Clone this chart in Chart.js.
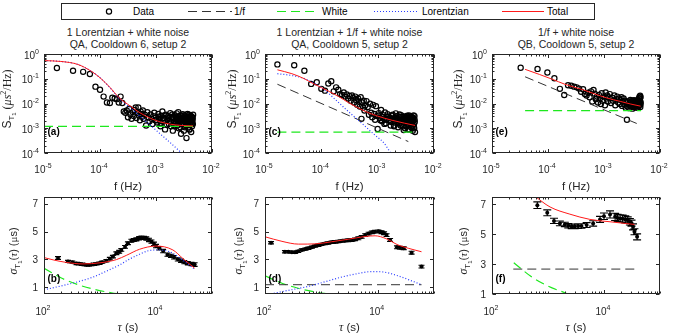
<!DOCTYPE html>
<html>
<head>
<meta charset="utf-8">
<title>T1 fluctuation spectra</title>
<script src="https://cdn.jsdelivr.net/npm/chart.js@4.4.1/dist/chart.umd.min.js"></script>
<style>
  html, body { margin: 0; padding: 0; background: #fff; }
  body { position: relative; width: 678px; height: 335px; overflow: hidden;
         font-family: "Liberation Sans", Arial, Helvetica, sans-serif; color: #262626; }
  canvas { position: absolute; }
  svg { position: absolute; left: 0; top: 0; }
  .ttl { position: absolute; font-size: 10.5px; line-height: 12px; white-space: nowrap; transform: translateX(-50%); }
  .lg { position: absolute; top: 5.5px; font-size: 10px; line-height: 12px; white-space: nowrap; color: #000; }
</style>
</head>
<body>

<svg width="678" height="24">
  <rect x="61.5" y="3.5" width="533" height="16" fill="#fff" stroke="#262626" stroke-width="1"/>
  <circle cx="109" cy="11.5" r="2.6" fill="none" stroke="#000" stroke-width="1.2"/>
  <line x1="188" y1="11.5" x2="232" y2="11.5" stroke="#333" stroke-width="1" stroke-dasharray="9 5"/>
  <line x1="277" y1="11.5" x2="319" y2="11.5" stroke="#1ee81e" stroke-width="1.2" stroke-dasharray="9 5"/>
  <line x1="374" y1="11.5" x2="417" y2="11.5" stroke="#2a3cff" stroke-width="1.2" stroke-dasharray="1 2"/>
  <line x1="502" y1="11.5" x2="544" y2="11.5" stroke="#ff1a1a" stroke-width="1"/>
</svg>
<div class="lg" style="left:133px">Data</div>
<div class="lg" style="left:234px">1/f</div>
<div class="lg" style="left:322px">White</div>
<div class="lg" style="left:422px">Lorentzian</div>
<div class="lg" style="left:547px">Total</div>

<div class="ttl" style="left:128px;top:25.5px">1 Lorentzian + white noise</div>
<div class="ttl" style="left:128px;top:37.5px">QA, Cooldown 6, setup 2</div>
<div class="ttl" style="left:349.5px;top:25.5px">1 Lorentzian + 1/f + white noise</div>
<div class="ttl" style="left:349.5px;top:37.5px">QA, Cooldown 5, setup 2</div>
<div class="ttl" style="left:576px;top:25.5px">1/f + white noise</div>
<div class="ttl" style="left:576px;top:37.5px">QB, Cooldown 5, setup 2</div>

<script>
// ---- tick values
const freqTicks = [1e-5, 1e-4, 1e-3, 1e-2];
const psdTicks = [1e-4, 1e-3, 1e-2, 1e-1, 1];
const tauTicks = [1e2, 1e4];
const sigmaTicks = [1, 3, 5, 7];

// ---- (a) PSD, QA cooldown 6
const aFreq = [1.7e-5,3.3e-5,5.0e-5,6.6e-5,8.3e-5,1.0e-4,1.16e-4,1.33e-4,1.5e-4,1.66e-4,1.83e-4,2.0e-4,2.16e-4,2.33e-4,2.5e-4,
  2.66e-4,2.83e-4,3.0e-4,3.16e-4,3.33e-4,3.5e-4,3.66e-4,3.83e-4,4.0e-4,4.16e-4,4.33e-4,4.5e-4,4.66e-4,4.83e-4,5.0e-4,5.16e-4,5.33e-4,5.5e-4,5.66e-4,5.83e-4,6.0e-4,
  6.33e-4,6.66e-4,7.0e-4,7.33e-4,7.66e-4,8.0e-4,8.33e-4,8.66e-4,9.0e-4,9.33e-4,9.66e-4,
  1.0e-3,1.05e-3,1.1e-3,1.15e-3,1.2e-3,1.25e-3,1.3e-3,1.35e-3,1.4e-3,1.45e-3,1.5e-3,
  1.6e-3,1.7e-3,1.8e-3,1.9e-3,2.0e-3,2.1e-3,2.2e-3,2.3e-3,2.4e-3,2.5e-3,2.6e-3,2.7e-3,2.8e-3,2.9e-3,3.0e-3,3.1e-3,3.2e-3,3.3e-3,3.4e-3,3.5e-3,3.6e-3,3.7e-3,3.8e-3,3.9e-3,4.0e-3,4.1e-3,4.2e-3,4.3e-3,4.4e-3,4.5e-3,4.6e-3,
  1.65e-3,1.75e-3,1.85e-3,1.95e-3,2.05e-3,2.15e-3,2.25e-3,2.35e-3,2.45e-3,2.55e-3,2.65e-3,2.75e-3,2.85e-3,2.95e-3,3.05e-3,3.15e-3,3.25e-3,3.35e-3,3.45e-3,3.55e-3,3.65e-3,3.75e-3,3.85e-3,3.95e-3,4.05e-3,4.15e-3,4.25e-3,4.35e-3,4.45e-3,4.55e-3,
  1.02e-3,1.12e-3,1.22e-3,1.32e-3,1.42e-3,1.55e-3,1.68e-3,1.82e-3,1.98e-3,2.12e-3,2.28e-3,2.42e-3,2.58e-3,2.72e-3,2.88e-3,3.02e-3,3.18e-3,3.32e-3,3.48e-3,3.62e-3,3.78e-3,3.92e-3,4.08e-3,4.22e-3,4.38e-3,4.52e-3];
const aPsd = [0.27,0.21,0.19,0.155,0.048,0.036,0.019,0.011,0.0104,0.017,0.016,0.015,0.011,0.019,0.0105,
  0.0048,0.0042,0.0052,0.0028,0.0062,0.0036,0.0024,0.0045,0.0031,0.0055,0.0069,0.0026,0.0042,0.0069,0.0033,0.0021,0.0047,0.0038,0.0029,0.0052,0.0024,
  0.0035,0.0013,0.0044,0.0027,0.0019,0.0036,0.0024,0.0015,0.0031,0.0042,0.0021,
  0.0027,0.0017,0.0038,0.0024,0.0012,0.0032,0.0048,0.0019,0.0026,0.0009,0.0035,
  0.0022,0.0015,0.0041,0.0027,0.0008,0.0019,0.0033,0.0023,0.0013,0.0045,0.0029,0.0018,0.0006,0.0025,0.0037,0.0016,0.0022,0.0011,0.0031,0.0004,0.0020,0.0027,0.0014,0.0035,0.0009,0.0024,0.0017,0.0030,0.0012,0.0021,0.0035,
  0.0031,0.0019,0.0012,0.0036,0.0026,0.0014,0.0028,0.0040,0.0021,0.0010,0.0024,0.0033,0.0016,0.0020,0.0027,0.0008,0.0034,0.0018,0.0024,0.0013,0.0038,0.0021,0.0011,0.0026,0.0016,0.0032,0.0007,0.0022,0.0028,0.0015,
  0.0021,0.0029,0.0016,0.0025,0.0033,0.0014,0.0026,0.0018,0.0029,0.0012,0.0017,0.0026,0.0020,0.0011,0.0032,0.0015,0.0025,0.0019,0.0013,0.0028,0.0017,0.0009,0.0030,0.0023,0.0016,0.0026];
const aTotF = [1e-5,2e-5,4e-5,7e-5,1e-4,1.5e-4,2.2e-4,3.5e-4,5e-4,8e-4,1.2e-3,1.8e-3,2.8e-3,4.6e-3];
const aTotS = [0.54,0.50,0.38,0.20,0.11,0.045,0.017,0.0078,0.0044,0.0025,0.0018,0.00146,0.0013,0.00124];
const aLorF = [1e-5,2e-5,4e-5,7e-5,1e-4,1.5e-4,2.2e-4,3.5e-4,5e-4,8e-4,1.2e-3,1.8e-3,2.8e-3,3.2e-3];
const aLorS = [0.54,0.50,0.38,0.20,0.11,0.044,0.016,0.0066,0.0032,0.0013,0.00058,0.00026,0.000105,0.00008];
const aWhiteF = [1e-5, 4.6e-3];
const aWhiteS = [0.0012, 0.0012];

// ---- (c) PSD, QA cooldown 5
const cFreq = [1.66e-5,3.3e-5,5.0e-5,6.6e-5,8.3e-5,1.0e-4,1.16e-4,1.33e-4,1.5e-4,1.66e-4,1.83e-4,2.0e-4,2.16e-4,2.33e-4,2.5e-4,2.66e-4,2.83e-4,3.0e-4,3.16e-4,3.33e-4,3.5e-4,3.66e-4,3.83e-4,4.0e-4,4.16e-4,4.33e-4,4.5e-4,4.66e-4,4.83e-4,5.0e-4,5.16e-4,5.33e-4,5.5e-4,5.66e-4,5.83e-4,6.0e-4,
  6.33e-4,6.66e-4,7.0e-4,7.33e-4,7.66e-4,8.0e-4,8.33e-4,8.66e-4,9.0e-4,9.33e-4,9.66e-4,
  1.0e-3,1.05e-3,1.1e-3,1.15e-3,1.2e-3,1.25e-3,1.3e-3,1.35e-3,1.4e-3,1.45e-3,1.5e-3,
  1.6e-3,1.7e-3,1.8e-3,1.9e-3,2.0e-3,2.1e-3,2.2e-3,2.3e-3,2.4e-3,2.5e-3,2.6e-3,2.7e-3,2.8e-3,2.9e-3,3.0e-3,3.1e-3,3.2e-3,3.3e-3,3.4e-3,3.5e-3,3.6e-3,3.7e-3,3.8e-3,3.9e-3,4.0e-3,4.1e-3,4.2e-3,4.3e-3,4.4e-3,4.5e-3,4.6e-3,
  1.65e-3,1.75e-3,1.85e-3,1.95e-3,2.05e-3,2.15e-3,2.25e-3,2.35e-3,2.45e-3,2.55e-3,2.65e-3,2.75e-3,2.85e-3,2.95e-3,3.05e-3,3.15e-3,3.25e-3,3.35e-3,3.45e-3,3.55e-3,3.65e-3,3.75e-3,3.85e-3,3.95e-3,4.05e-3,4.15e-3,4.25e-3,4.35e-3,4.45e-3,4.55e-3,
  1.02e-3,1.12e-3,1.22e-3,1.32e-3,1.42e-3,1.55e-3,1.68e-3,1.82e-3,1.98e-3,2.12e-3,2.28e-3,2.42e-3,2.58e-3,2.72e-3,2.88e-3,3.02e-3,3.18e-3,3.32e-3,3.48e-3,3.62e-3,3.78e-3,3.92e-3,4.08e-3,4.22e-3,4.38e-3,4.52e-3];
const cPsd = [0.38,0.35,0.21,0.062,0.072,0.039,0.033,0.064,0.080,0.031,0.045,0.036,0.024,0.022,0.028,0.019,0.023,0.016,0.020,0.013,0.021,0.017,0.011,0.019,0.014,0.009,0.016,0.012,0.0075,0.018,0.0024,0.011,0.0068,0.013,0.0052,0.0085,
  0.0125,0.0072,0.0035,0.0098,0.0042,0.0028,0.0088,0.0038,0.0022,0.0078,0.0031,
  0.00093,0.0041,0.0026,0.0055,0.0019,0.0034,0.0024,0.0043,0.0016,0.0029,0.0037,
  0.0021,0.0013,0.0032,0.0025,0.0017,0.0040,0.0022,0.0011,0.0028,0.0019,0.0034,0.0014,0.0024,0.00085,0.0030,0.0018,0.0012,0.0026,0.0021,0.0009,0.0033,0.0016,0.0023,0.0011,0.0028,0.0019,0.0008,0.0025,0.0014,0.0031,0.0007,
  0.0027,0.0018,0.0035,0.0012,0.0025,0.0031,0.0016,0.0022,0.0036,0.0013,0.0020,0.0029,0.0017,0.0023,0.0010,0.0027,0.0019,0.0032,0.0014,0.0024,0.0009,0.0021,0.0030,0.0017,0.0012,0.0026,0.0020,0.0033,0.0010,0.0018,
  0.0033,0.0021,0.0028,0.0015,0.0022,0.0030,0.0019,0.0024,0.0013,0.0027,0.0021,0.0016,0.0029,0.0020,0.0012,0.0024,0.0017,0.0028,0.0022,0.0013,0.0025,0.0019,0.0015,0.0027,0.0011,0.0022];
const cTotF = [1.66e-5,3e-5,5e-5,7e-5,1e-4,2e-4,3e-4,6e-4,1e-3,1.8e-3,3e-3,4.6e-3];
const cTotS = [0.23,0.16,0.10,0.066,0.044,0.0196,0.011,0.0048,0.0031,0.0021,0.0016,0.0013];
const cLorF = [1.66e-5,3e-5,5.1e-5,8e-5,1.16e-4,1.8e-4,2.65e-4,4e-4,6e-4,9e-4,1.3e-3,1.7e-3];
const cLorS = [0.16,0.135,0.10,0.06,0.034,0.014,0.0062,0.0027,0.0012,0.00052,0.00025,0.0001];
const cOneF = [1.66e-5, 3.5e-3];
const cOneS = [0.06, 0.00029];
const cWhiteF = [1.66e-5, 4.6e-3];
const cWhiteS = [0.0007, 0.0007];

// ---- (e) PSD, QB cooldown 5
const eFreq = [3.25e-5,6.5e-5,9.75e-5,1.3e-4,1.63e-4,1.95e-4,2.28e-4,2.6e-4,2.93e-4,3.25e-4,3.58e-4,3.9e-4,4.23e-4,4.55e-4,4.88e-4,5.2e-4,5.53e-4,5.85e-4,6.18e-4,6.5e-4,
  6.83e-4,7.15e-4,7.48e-4,7.8e-4,8.13e-4,8.45e-4,8.78e-4,9.1e-4,9.43e-4,9.75e-4,1.04e-3,1.07e-3,1.11e-3,1.14e-3,1.17e-3,1.2e-3,1.27e-3,1.33e-3,1.4e-3,1.46e-3,
  1.53e-3,1.59e-3,1.66e-3,1.72e-3,1.79e-3,1.85e-3,1.92e-3,1.98e-3,2.05e-3,2.11e-3,2.18e-3,2.24e-3,2.31e-3,2.37e-3,2.44e-3,2.5e-3,2.57e-3,2.63e-3,2.7e-3,2.76e-3,
  2.83e-3,2.89e-3,2.96e-3,3.02e-3,3.09e-3,3.15e-3,3.22e-3,3.28e-3,3.35e-3,3.41e-3,3.48e-3,3.54e-3,3.61e-3,3.67e-3,3.74e-3,3.8e-3,3.87e-3,3.93e-3,4.0e-3,4.06e-3,
  4.13e-3,4.19e-3,4.26e-3,4.32e-3,4.39e-3,4.45e-3,4.52e-3,
  3.05e-3,3.18e-3,3.31e-3,3.44e-3,3.57e-3,3.7e-3,3.83e-3,3.96e-3,4.09e-3,4.22e-3,4.35e-3,4.48e-3,4.5e-3,4.42e-3,4.3e-3,4.15e-3];
const ePsd = [0.28,0.25,0.18,0.105,0.039,0.022,0.055,0.052,0.048,0.045,0.040,0.030,0.038,0.024,0.021,0.027,0.018,0.031,0.012,0.035,
  0.025,0.015,0.019,0.011,0.022,0.016,0.0095,0.026,0.013,0.019,0.0085,0.028,0.016,0.021,0.012,0.018,0.024,0.0105,0.017,0.013,
  0.021,0.0085,0.015,0.019,0.011,0.016,0.0095,0.014,0.018,0.008,0.012,0.016,0.0092,0.013,0.0068,0.011,0.0022,0.0075,0.012,0.0088,
  0.0065,0.0105,0.014,0.0078,0.011,0.0095,0.0062,0.013,0.0085,0.011,0.0072,0.0098,0.0125,0.0083,0.0105,0.0068,0.0092,0.012,0.0088,0.0145,
  0.0078,0.0102,0.0165,0.0094,0.0128,0.0072,0.011,
  0.0125,0.0088,0.0072,0.0135,0.0079,0.0115,0.0095,0.0069,0.0118,0.0085,0.0155,0.0092,0.0180,0.0205,0.0190,0.0130];
const eTotF = [3.9e-5,7e-5,1.2e-4,2e-4,4.2e-4,7e-4,1.1e-3,2e-3,3e-3,4.5e-3];
const eTotS = [0.24,0.15,0.095,0.06,0.036,0.024,0.017,0.012,0.0095,0.0078];
const eOneF = [3.9e-5, 4.3e-3];
const eOneS = [0.12, 0.0014];
const eWhiteF = [3.9e-5, 4.6e-3];
const eWhiteS = [0.0052, 0.0052];

// ---- (b) Allan deviation, QA cooldown 6
const bTau = [178,268,320,380,430,480,530,580,640,700,780,860,980,1100,1300,1500,1700,1960,2200,2400,2800,3150,3630,4000,4460,5000,5500,6100,6700,7500,8300,9200,10000,11500,13400,16000,18500,21000,24500,28000,32000,37000,43000,49000];
const bSig = [3.1,2.85,2.8,2.7,2.68,2.64,2.62,2.6,2.6,2.62,2.64,2.68,2.72,2.8,2.9,3.05,3.2,3.44,3.55,3.68,3.9,4.16,4.34,4.4,4.44,4.52,4.56,4.55,4.5,4.4,4.28,4.12,3.96,3.8,3.6,3.34,3.25,3.15,3.0,2.9,2.8,2.72,2.66,2.62];
const bErr = [0.1,0.08,0.08,0.08,0.08,0.08,0.08,0.08,0.08,0.08,0.08,
  0.08,0.08,0.08,0.09,0.09,0.09,0.1,0.1,0.1,0.1,0.1,
  0.11,0.11,0.11,0.12,0.12,0.12,0.12,0.12,0.12,0.12,0.12,
  0.12,0.12,0.12,0.12,0.12,0.12,0.12,0.12,0.12,0.12,0.13];
const bTotT = [100,150,250,500,1000,1960,3000,5100,10000,20000,30000,49000];
const bTotS = [3.13,2.95,2.78,2.67,2.75,2.98,3.3,3.73,3.96,3.68,3.07,2.36];
const bLorT = [100,250,400,750,1300,2240,3300,5100,7000,10000,14000,20000,30000,49000];
const bLorS = [0.8,1.17,1.38,1.72,2.15,2.6,3.0,3.37,3.6,3.68,3.65,3.44,2.95,2.29];
const bWhiteT = [100,200,400,800,1600,2300];
const bWhiteS = [2.36,1.67,1.18,0.83,0.59,0.49];

// ---- (d) Allan deviation, QA cooldown 5
const dTau = [128,226,260,300,340,390,450,520,590,680,770,880,1000,1150,1320,1520,1750,2000,2280,2600,3000,3450,3950,4540,5200,6000,6900,7900,9000,10300,11700,13000,14400,16600,22000,25000,29000,40000,60000];
const dSig = [4.2,3.55,3.54,3.52,3.51,3.58,3.68,3.74,3.8,3.88,3.96,4.02,4.08,4.14,4.18,4.23,4.26,4.29,4.32,4.35,4.38,4.4,4.44,4.52,4.62,4.75,4.86,4.95,5.0,5.02,4.96,4.88,4.75,4.4,3.87,3.84,3.8,3.48,2.48];
const dErr = [0.08,0.08,0.08,0.08,0.08,0.08,0.08,0.08,0.08,0.08,
  0.08,0.08,0.08,0.08,0.08,0.09,0.09,0.09,0.09,0.09,
  0.1,0.1,0.1,0.1,0.1,0.1,0.1,0.1,0.1,0.1,
  0.1,0.1,0.1,0.1,0.1,0.1,0.1,0.1,0.1];
const dTotT = [100,200,392,800,1520,3000,6000,9000,14000,23000,35000,60000];
const dTotS = [4.63,4.3,4.1,4.12,4.27,4.45,4.65,4.7,4.5,4.04,3.8,3.55];
const dLorT = [100,250,590,1200,2280,4500,7900,13000,23000,40000,60000];
const dLorS = [0.42,0.75,1.05,1.4,1.72,1.98,2.12,2.08,1.81,1.45,1.17];
const dOneT = [100, 60000];
const dOneS = [1.17, 1.17];
const dWhiteT = [100,200,400,800,1330];
const dWhiteS = [1.81,1.28,0.9,0.64,0.5];

// ---- (f) Allan deviation, QB cooldown 5
const fTau = [645,970,1280,1630,2000,2300,2650,3000,3450,3960,4900,6400,8500,10000,12800,15800,17500,19400,21500,24000,26500,29000,31000,33000,35000,39000];
const fSig = [6.95,6.44,5.9,5.73,5.66,5.57,5.53,5.52,5.55,5.56,5.62,5.73,6.0,6.21,6.33,6.17,6.1,6.06,6.05,6.0,5.95,5.84,5.75,5.5,5.17,4.83];
const fErr = [0.22,0.2,0.18,0.16,0.15,0.15,0.15,0.15,0.15,0.15,
  0.16,0.18,0.2,0.22,0.24,0.24,0.24,0.24,0.24,0.24,
  0.22,0.22,0.2,0.2,0.2,0.2];
const fTotT = [560,1090,2460,5600,12800,35000];
const fTotS = [7.6,6.83,6.35,6.0,5.84,5.66];
const fOneT = [240, 38000];
const fOneS = [2.67, 2.67];
const fWhiteT = [245,500,1000,2000,2150];
const fWhiteS = [3.1,2.17,1.53,1.08,1.03];

// ---- styling
const AXIS = '#262626';
const RED = '#ff1a1a', BLUE = '#2a3cff', GREEN = '#1ee81e', BLACK = '#333';
const DASH = [9, 5], DOT = [1, 2];
const SANS = '"Liberation Sans", Arial, Helvetica, sans-serif';
const SERIF = '"Liberation Serif", "Times New Roman", serif';

function xy(xs, ys) { return xs.map((v, i) => ({ x: v, y: ys[i] })); }

function curve(xs, ys, color, dash, width) {
  return { data: xy(xs, ys), showLine: true, borderColor: color, borderWidth: width || 1,
    borderDash: dash || [], pointRadius: 0, cubicInterpolationMode: 'monotone', fill: false };
}
function circles(xs, ys) {
  return { data: xy(xs, ys), showLine: false, pointRadius: 2.6, pointBorderWidth: 1.2,
    pointBorderColor: '#000', pointBackgroundColor: 'rgba(0,0,0,0)' };
}
function dots(xs, ys, err, cap) {
  return { data: xy(xs, ys), errorBars: err, capHalf: cap, showLine: false, pointRadius: 2,
    pointBorderWidth: 0, pointBackgroundColor: '#000' };
}

function logMinor(lo, hi) {
  const out = [];
  for (let e = Math.floor(Math.log10(lo) + 1e-9); e < Math.log10(hi) - 1e-9; e++) {
    for (let m = 1; m < 10; m++) out.push(m * Math.pow(10, e));
  }
  out.push(hi);
  return out;
}

// text made of pieces [text, font, dy]
function rich(ctx, parts, x, y, align) {
  let w = 0;
  parts.forEach(p => { ctx.font = p[1]; w += ctx.measureText(p[0]).width; });
  let cx = align === 'right' ? x - w : align === 'center' ? x - w / 2 : x;
  parts.forEach(p => {
    ctx.font = p[1];
    ctx.fillText(p[0], cx, y + (p[2] || 0));
    cx += ctx.measureText(p[0]).width;
  });
}
function pow10(v) {
  return [['10', '10px ' + SANS], [String(Math.round(Math.log10(v))), '7px ' + SANS, -5]];
}

const errorBarPlugin = {
  id: 'errbars',
  beforeDatasetsDraw(chart) {
    const { ctx, chartArea: a } = chart;
    const sy = chart.scales.y;
    chart.data.datasets.forEach((ds, i) => {
      if (!ds.errorBars) return;
      const meta = chart.getDatasetMeta(i);
      const cap = ds.capHalf || 3;
      ctx.save();
      ctx.beginPath();
      ctx.rect(a.left, a.top, a.right - a.left, a.bottom - a.top);
      ctx.clip();
      ctx.strokeStyle = '#000';
      ctx.lineWidth = 1.1;
      ctx.beginPath();
      meta.data.forEach((pt, j) => {
        const v = ds.data[j].y, e = ds.errorBars[j] || 0;
        const y1 = sy.getPixelForValue(v - e), y2 = sy.getPixelForValue(v + e);
        ctx.moveTo(pt.x, y1); ctx.lineTo(pt.x, y2);
        ctx.moveTo(pt.x - cap, y1); ctx.lineTo(pt.x + cap, y1);
        ctx.moveTo(pt.x - cap, y2); ctx.lineTo(pt.x + cap, y2);
      });
      ctx.stroke();
      ctx.restore();
    });
  }
};

// MATLAB-like box, inward ticks, labels and titles
const framePlugin = {
  id: 'frame',
  afterDraw(chart, _args, o) {
    const { ctx, chartArea: a } = chart;
    const sx = chart.scales.x, sy = chart.scales.y;
    const L = a.left + 0.5, R = a.right - 0.5, T = a.top + 0.5, B = a.bottom - 0.5;
    ctx.save();
    ctx.strokeStyle = AXIS;
    ctx.fillStyle = AXIS;
    ctx.lineWidth = 1;
    ctx.strokeRect(L, T, R - L, B - T);

    const isMajor = (v, list) => list.some(m => Math.abs(Math.log10(v) - Math.log10(m)) < 1e-6);
    ctx.beginPath();
    o.xMinor.forEach(v => {
      const p = Math.round(sx.getPixelForValue(v)) + 0.5;
      const len = isMajor(v, o.xMajor) ? 3.5 : 2;
      ctx.moveTo(p, B); ctx.lineTo(p, B - len);
      ctx.moveTo(p, T); ctx.lineTo(p, T + len);
    });
    o.yMinor.forEach(v => {
      const p = Math.round(sy.getPixelForValue(v)) + 0.5;
      const len = isMajor(v, o.yMajor) ? 3.5 : 2;
      ctx.moveTo(L, p); ctx.lineTo(L + len, p);
      ctx.moveTo(R, p); ctx.lineTo(R - len, p);
    });
    ctx.stroke();

    ctx.textBaseline = 'alphabetic';
    o.xMajor.forEach(v => {
      rich(ctx, pow10(v), sx.getPixelForValue(v) - 1, a.bottom + o.xTickDy, 'center');
    });
    o.yMajor.forEach(v => {
      const p = sy.getPixelForValue(v);
      const parts = o.yLog ? pow10(v) : [[String(v), '10px ' + SANS]];
      rich(ctx, parts, a.left - (o.yLog ? 5 : 6), p + (o.yLog ? 4.5 : 3.5), 'right');
    });
    // axis titles
    rich(ctx, o.xTitle, (a.left + a.right) / 2, a.bottom + 36.5, 'center');
    ctx.save();
    ctx.translate(a.left + o.yTitleX + 4, a.top + o.yTitleMid);
    ctx.rotate(-Math.PI / 2);
    rich(ctx, o.yTitle, 0, 0, 'center');
    ctx.restore();
    // panel letter
    ctx.fillStyle = '#000';
    rich(ctx, [[o.letter, 'bold 10px ' + SANS]], a.left + 3.5, a.bottom - o.letterUp);
    ctx.restore();
  }
};

const psdTitle = [['S', '12px ' + SANS], ['T', '8px ' + SANS, 2.5], ['1', '6px ' + SANS, 4.5],
  [' (', '12px ' + SERIF], ['\u03bcs', 'italic 12px ' + SERIF], ['2', '8px ' + SERIF, -5], ['/Hz)', '12px ' + SERIF]];
const sigTitle = [['\u03c3', 'italic 12px ' + SERIF], ['T', '8px ' + SANS, 3], ['1', '6px ' + SANS, 5],
  ['(', '11px ' + SANS], ['\u03c4', 'italic 11px ' + SERIF], [') (', '11px ' + SANS], ['\u03bc', '11px ' + SERIF], ['s)', '11px ' + SANS]];
const fTitle = [['f (Hz)', '11.5px ' + SANS]];
const tauTitle = [['\u03c4', 'italic 12px ' + SERIF], [' (s)', '11.5px ' + SANS]];

function panel(box, yLog, yMin, yMax, xMin, xMax, datasets, frame) {
  const ML = 44, MR = 16, MT = 10, MB = yLog ? 42 : 40;
  const c = document.createElement('canvas');
  const w = box.right - box.left + ML + MR, h = box.bottom - box.top + MT + MB;
  c.width = w; c.height = h;
  c.style.left = (box.left - ML) + 'px';
  c.style.top = (box.top - MT) + 'px';
  c.style.width = w + 'px';
  c.style.height = h + 'px';
  document.body.appendChild(c);
  frame.yLog = yLog;
  new Chart(c, {
    type: 'scatter',
    data: { datasets },
    options: {
      responsive: false, animation: false, devicePixelRatio: 1,
      layout: { padding: { left: ML, right: MR, top: MT, bottom: MB } },
      plugins: { legend: { display: false }, tooltip: { enabled: false }, frame },
      scales: {
        x: { type: 'logarithmic', min: xMin, max: xMax, display: false },
        y: { type: yLog ? 'logarithmic' : 'linear', min: yMin, max: yMax, display: false }
      }
    },
    plugins: [errorBarPlugin, framePlugin]
  });
}

const topX = { xMajor: freqTicks, xMinor: logMinor(1e-5, 1e-2), yMajor: psdTicks, yMinor: logMinor(1e-4, 1),
  xTickDy: 19.5, xTitle: fTitle, yTitle: psdTitle, yTitleMid: 45, letterUp: 18.5 };
const botX = { xMajor: tauTicks, xMinor: logMinor(1e2, 1e5), yMajor: sigmaTicks, yMinor: sigmaTicks,
  xTickDy: 21, xTitle: tauTitle, yTitle: sigTitle, yTitleMid: 54, letterUp: 12.5 };

panel({ left: 44, right: 212, top: 54, bottom: 153 }, true, 1e-4, 1, 1e-5, 1e-2, [
  curve(aTotF, aTotS, RED),
  curve(aLorF, aLorS, BLUE, DOT, 1.2),
  curve(aWhiteF, aWhiteS, GREEN, DASH, 1.2),
  circles(aFreq, aPsd)
], Object.assign({}, topX, { letter: '(a)', yTitleX: -37 }));

panel({ left: 265, right: 434, top: 54, bottom: 153 }, true, 1e-4, 1, 1e-5, 1e-2, [
  curve(cTotF, cTotS, RED),
  curve(cLorF, cLorS, BLUE, DOT, 1.2),
  curve(cOneF, cOneS, BLACK, DASH),
  curve(cWhiteF, cWhiteS, GREEN, DASH, 1.2),
  circles(cFreq, cPsd)
], Object.assign({}, topX, { letter: '(c)', yTitleX: -33 }));

panel({ left: 492, right: 660, top: 54, bottom: 153 }, true, 1e-4, 1, 1e-5, 1e-2, [
  curve(eTotF, eTotS, RED),
  curve(eOneF, eOneS, BLACK, DASH),
  curve(eWhiteF, eWhiteS, GREEN, DASH, 1.2),
  circles(eFreq, ePsd)
], Object.assign({}, topX, { letter: '(e)', yTitleX: -34 }));

panel({ left: 44, right: 212, top: 197, bottom: 294 }, false, 0.5, 7.5, 1e2, 1e5, [
  curve(bTotT, bTotS, RED),
  curve(bLorT, bLorS, BLUE, DOT, 1.2),
  curve(bWhiteT, bWhiteS, GREEN, DASH, 1.2),
  dots(bTau, bSig, bErr, 3)
], Object.assign({}, botX, { letter: '(b)', yTitleX: -31 }));

panel({ left: 265, right: 434, top: 197, bottom: 294 }, false, 0.5, 7.5, 1e2, 1e5, [
  curve(dTotT, dTotS, RED),
  curve(dLorT, dLorS, BLUE, DOT, 1.2),
  curve(dOneT, dOneS, BLACK, DASH),
  curve(dWhiteT, dWhiteS, GREEN, DASH, 1.2),
  dots(dTau, dSig, dErr, 3)
], Object.assign({}, botX, { letter: '(d)', yTitleX: -27 }));

panel({ left: 492, right: 660, top: 197, bottom: 294 }, false, 1, 7.5, 1e2, 1e5, [
  curve(fTotT, fTotS, RED),
  curve(fOneT, fOneS, BLACK, DASH),
  curve(fWhiteT, fWhiteS, GREEN, DASH, 1.2),
  dots(fTau, fSig, fErr, 4)
], Object.assign({}, botX, { letter: '(f)', yTitleX: -29 }));
</script>
</body>
</html>
